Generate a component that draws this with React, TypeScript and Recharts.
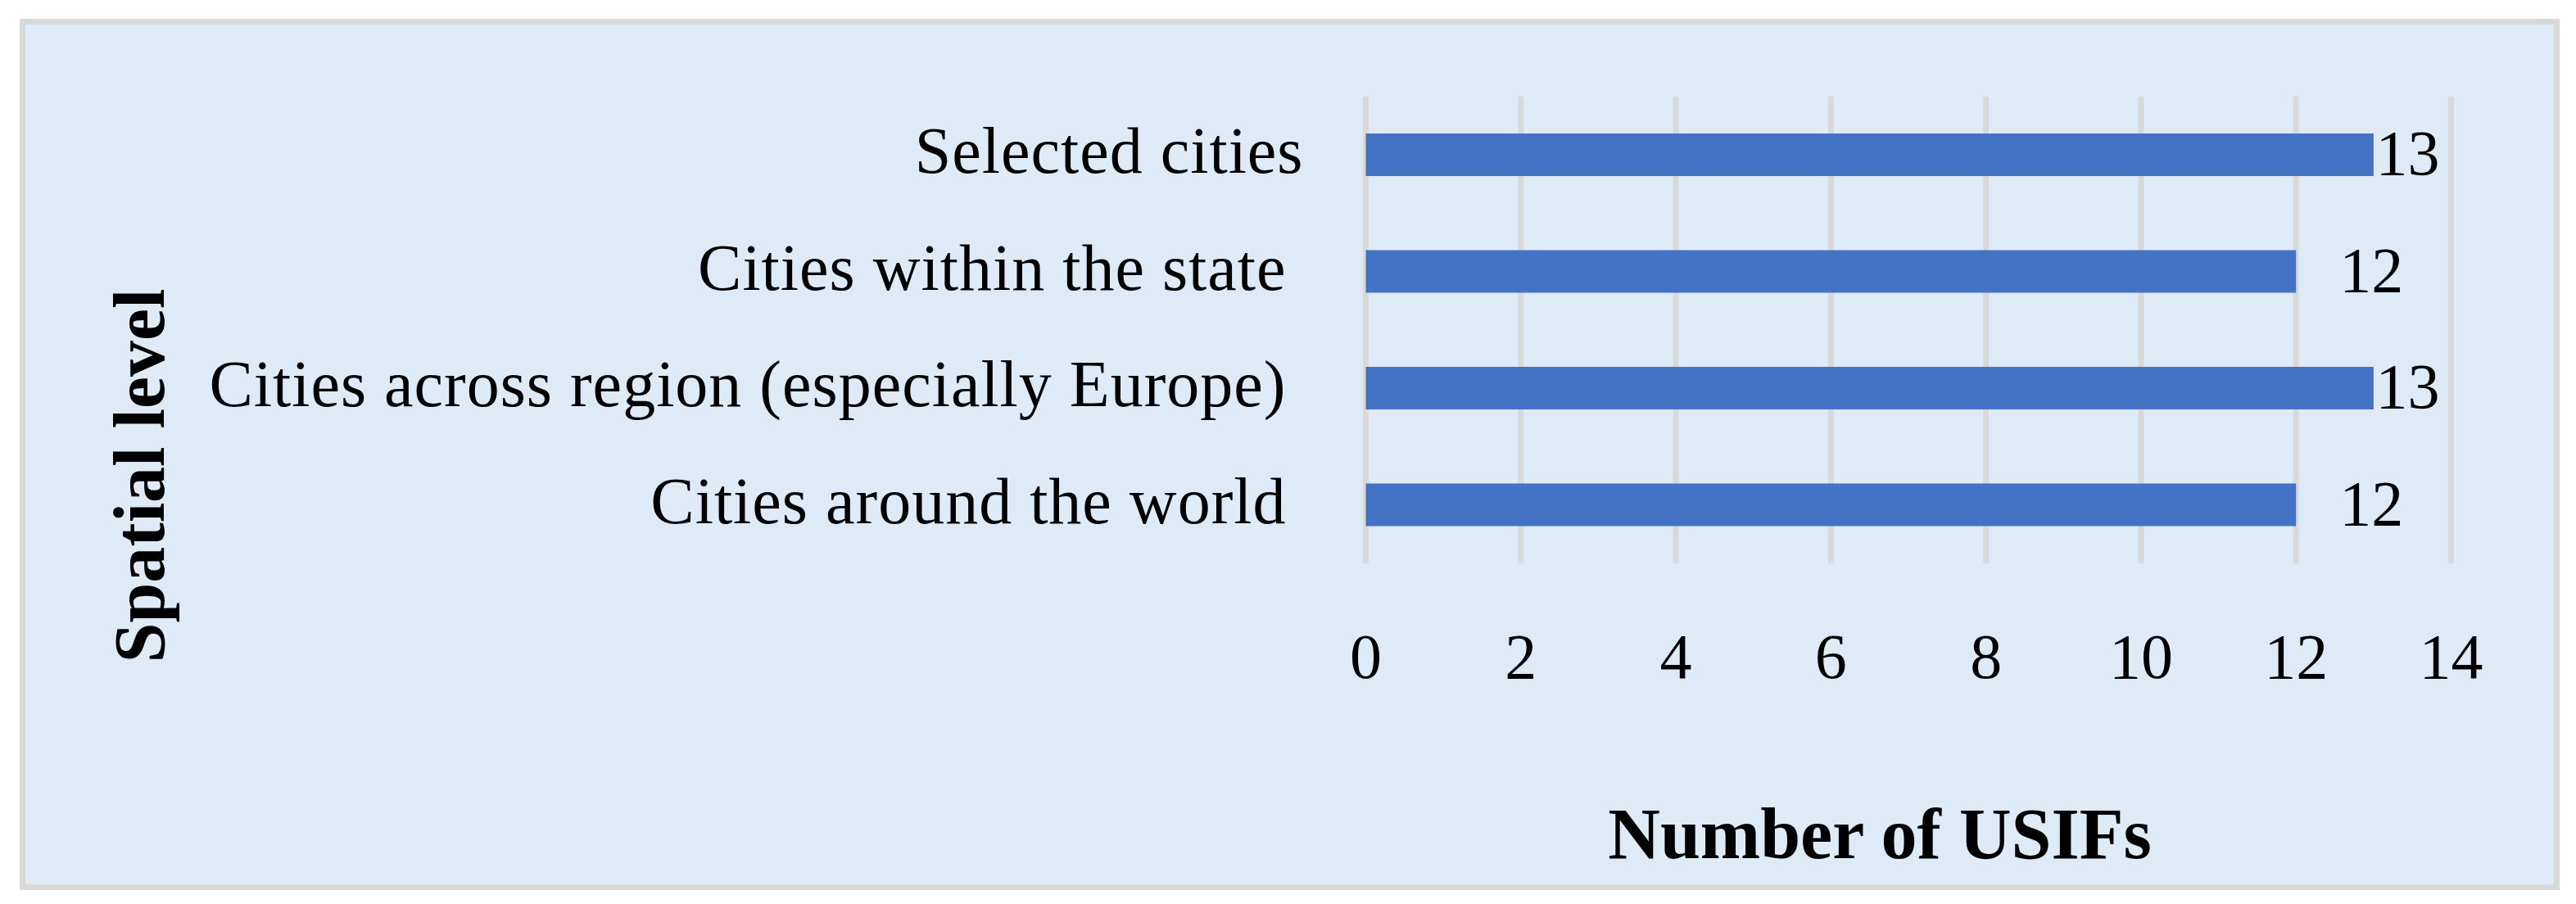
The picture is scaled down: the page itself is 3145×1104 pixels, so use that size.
import React from "react";
import { BarChart, Bar, XAxis, YAxis, CartesianGrid, LabelList } from "recharts";

const categories = [
  "Selected cities",
  "Cities within the state ",
  "Cities across region (especially Europe) ",
  "Cities around the world ",
];
const usifCounts = [13, 12, 13, 12];
const xTicks = [0, 2, 4, 6, 8, 10, 12, 14];
const xTitle = "Number of USIFs";
const yTitle = "Spatial level";

const data = categories.map((name, i) => ({ name, value: usifCounts[i] }));

const FONT = "'Liberation Serif', 'Times New Roman', serif";
const BAR_COLOR = "#4472c4";
const BG = "#deeaf6";
const GRID = "#d9d9d9";
const X_MAX = xTicks[xTicks.length - 1];

const CategoryTick = (props: any) => {
  const { x, y, payload } = props;
  return (
    <text
      x={x - 68}
      y={y + 22}
      textAnchor="end"
      fontFamily={FONT}
      fontSize={80}
      letterSpacing={1}
      fill="#000"
      xmlSpace="preserve"
      style={{ whiteSpace: "pre" }}
    >
      {payload.value}
    </text>
  );
};

const ValueTick = (props: any) => {
  const { x, y, payload } = props;
  return (
    <text x={x} y={y + 132} textAnchor="middle" fontFamily={FONT} fontSize={78} fill="#000">
      {payload.value}
    </text>
  );
};

const DataLabel = (props: any) => {
  const { x, y, width, height, value } = props;
  const ppu = width / value;
  const plotRight = x + X_MAX * ppu;
  const fs = 78;
  const textW = String(value).length * 0.5 * fs;
  let tx = x + width + 53;
  let anchor: "start" | "end" = "start";
  if (tx + textW > plotRight - 14) {
    tx = plotRight - 14;
    anchor = "end";
  }
  return (
    <text x={tx} y={y + height / 2 + 24} textAnchor={anchor} fontFamily={FONT} fontSize={fs} fill="#000">
      {value}
    </text>
  );
};

const YTitle = (props: any) => {
  const vb = props.viewBox || { x: 0, y: 0 };
  const cx = vb.x + 200;
  const cy = vb.y + 463;
  return (
    <text
      x={cx}
      y={cy}
      transform={`rotate(-90, ${cx}, ${cy})`}
      textAnchor="middle"
      fontFamily={FONT}
      fontWeight="bold"
      fontSize={88}
      fill="#000"
    >
      {yTitle}
    </text>
  );
};

const XTitle = (props: any) => {
  const vb = props.viewBox || { x: 0, y: 0 };
  return (
    <text
      x={vb.x - 35 + (vb.width || 0) / 2}
      y={vb.y + 360}
      textAnchor="middle"
      fontFamily={FONT}
      fontWeight="bold"
      fontSize={88}
      fill="#000"
    >
      {xTitle}
    </text>
  );
};

export default function App() {
  return (
    <div style={{ position: "absolute", left: 0, top: 0, width: 3145, height: 1104, background: "#fff" }}>
      <div
        style={{
          position: "absolute",
          left: 24,
          top: 23,
          width: 3125 - 24,
          height: 1087 - 23,
          boxSizing: "border-box",
          border: `7px solid ${GRID}`,
          background: BG,
        }}
      />
      <div style={{ position: "absolute", left: 0, top: 0 }}>
        <BarChart
          width={3145}
          height={1104}
          data={data}
          layout="vertical"
          margin={{ top: 118, right: 152.5, bottom: 216, left: 0 }}
          barSize={52}
        >
          <CartesianGrid vertical={true} horizontal={false} stroke={GRID} strokeWidth={7} />
          <XAxis
            type="number"
            domain={[0, X_MAX]}
            ticks={xTicks}
            interval={0}
            axisLine={false}
            tickLine={false}
            height={200}
            tick={<ValueTick />}
            label={<XTitle />}
          />
          <YAxis
            type="category"
            dataKey="name"
            width={1667.5}
            axisLine={false}
            tickLine={false}
            interval={0}
            tick={<CategoryTick />}
            label={<YTitle />}
          />
          <Bar dataKey="value" fill={BAR_COLOR} isAnimationActive={false}>
            <LabelList dataKey="value" content={<DataLabel />} />
          </Bar>
        </BarChart>
      </div>
    </div>
  );
}
